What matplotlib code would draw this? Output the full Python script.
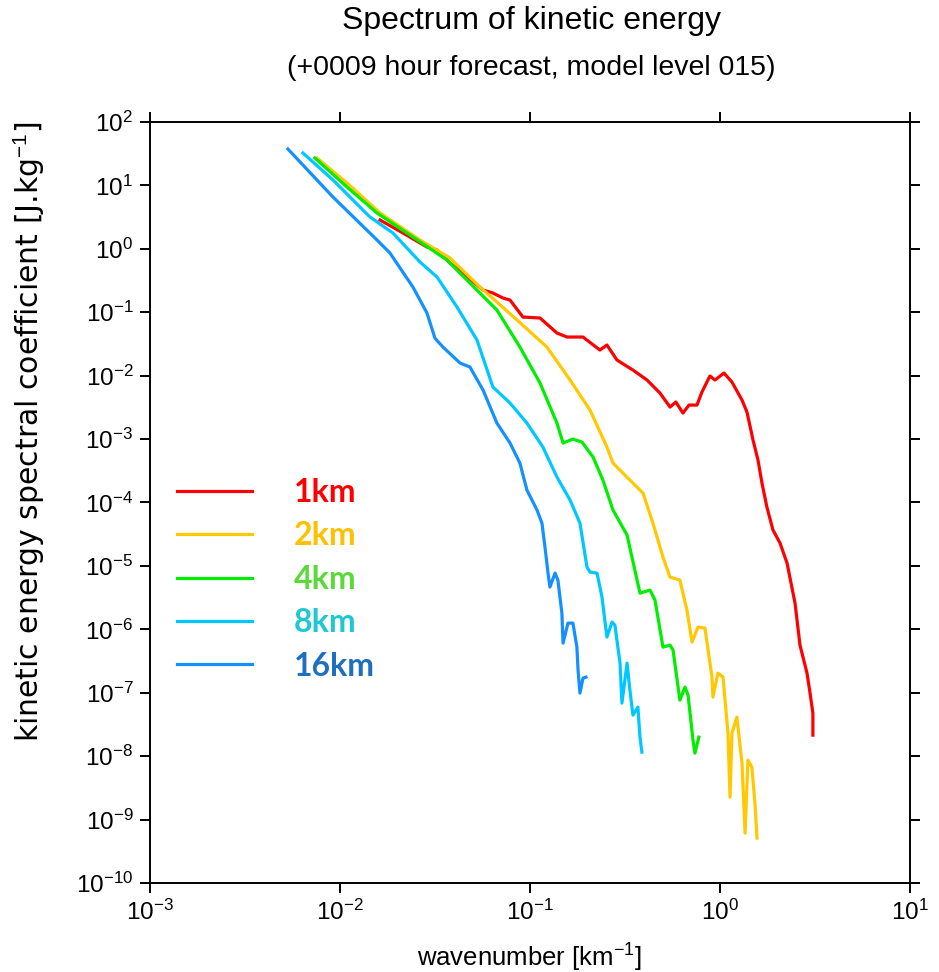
import numpy as np
import matplotlib.pyplot as plt
from matplotlib.lines import Line2D

plt.rcParams['font.family'] = ['Liberation Sans', 'DejaVu Sans']
plt.rcParams['mathtext.fontset'] = 'custom'
plt.rcParams['mathtext.rm'] = 'Liberation Sans'
plt.rcParams['mathtext.it'] = 'Liberation Sans:italic'
plt.rcParams['mathtext.bf'] = 'Liberation Sans:bold'

# log10(wavenumber [km-1]) and log10(spectral coefficient [J/kg])
lk_1km = [-1.789, -1.668, -1.542, -1.489, -1.421, -1.353, -1.247, -1.195, -1.142, -1.105,
          -1.037, -0.947, -0.858, -0.805, -0.721, -0.632, -0.595, -0.542, -0.458, -0.384,
          -0.316, -0.263, -0.232, -0.195, -0.163, -0.121, -0.095, -0.053, -0.026, 0.021,
          0.063, 0.116, 0.142, 0.174, 0.2, 0.221, 0.247, 0.279, 0.316, 0.353,
          0.395, 0.421, 0.458, 0.474, 0.489, 0.489]
le_1km = [0.454, 0.249, 0.028, -0.019, -0.224, -0.382, -0.650, -0.697, -0.776, -0.808,
          -1.076, -1.091, -1.328, -1.391, -1.391, -1.596, -1.517, -1.754, -1.912, -2.069,
          -2.274, -2.495, -2.416, -2.590, -2.464, -2.464, -2.259, -2.006, -2.069, -1.959,
          -2.101, -2.385, -2.574, -3.016, -3.331, -3.694, -4.073, -4.435, -4.640, -4.956,
          -5.587, -6.249, -6.691, -7.006, -7.322, -7.669]

lk_2km = [-2.121, -1.963, -1.789, -1.579, -1.421, -1.263, -1.068, -0.911, -0.789, -0.684,
          -0.595, -0.563, -0.511, -0.474, -0.405, -0.353, -0.3, -0.263, -0.211, -0.174,
          -0.147, -0.116, -0.079, -0.042, -0.037, -0.011, 0.016, 0.042, 0.053, 0.063,
          0.089, 0.116, 0.132, 0.147, 0.168, 0.184, 0.195]
le_2km = [1.432, 1.038, 0.565, 0.139, -0.145, -0.603, -1.123, -1.549, -2.069, -2.543,
          -3.126, -3.379, -3.536, -3.647, -3.852, -4.325, -4.861, -5.177, -5.224, -5.697,
          -6.202, -5.965, -5.981, -6.754, -7.069, -6.691, -6.754, -7.637, -8.647, -7.637,
          -7.385, -8.110, -9.215, -8.063, -8.174, -8.741, -9.293]

lk_4km = [-2.132, -1.963, -1.805, -1.616, -1.437, -1.316, -1.174, -1.053, -0.947, -0.858,
          -0.826, -0.774, -0.726, -0.668, -0.616, -0.563, -0.489, -0.421, -0.368, -0.342,
          -0.3, -0.263, -0.247, -0.211, -0.184, -0.168, -0.142, -0.132, -0.111]
le_4km = [1.432, 0.975, 0.565, 0.186, -0.177, -0.539, -0.965, -1.549, -2.117, -2.748,
          -3.063, -3.0, -3.048, -3.284, -3.647, -4.120, -4.514, -5.429, -5.382, -5.539,
          -6.281, -6.249, -6.328, -7.117, -6.912, -7.038, -7.748, -7.953, -7.700]

lk_8km = [-2.195, -2.037, -1.842, -1.721, -1.579, -1.489, -1.384, -1.279, -1.195, -1.105,
          -1.016, -0.932, -0.858, -0.789, -0.737, -0.7, -0.684, -0.647, -0.621, -0.595,
          -0.568, -0.553, -0.526, -0.516, -0.489, -0.474, -0.458, -0.432, -0.421, -0.411]
le_8km = [1.511, 1.085, 0.502, 0.249, -0.208, -0.445, -0.918, -1.438, -2.180, -2.432,
          -2.748, -3.126, -3.599, -3.962, -4.325, -5.019, -5.098, -5.114, -5.492, -6.123,
          -5.886, -5.934, -6.533, -7.164, -6.533, -6.959, -7.353, -7.227, -7.700, -7.937]

lk_16km = [-2.274, -2.037, -1.805, -1.737, -1.616, -1.542, -1.5, -1.458, -1.368, -1.316,
           -1.247, -1.174, -1.105, -1.053, -1.016, -0.963, -0.937, -0.921, -0.905, -0.895,
           -0.868, -0.853, -0.832, -0.826, -0.8, -0.774, -0.753, -0.747, -0.737, -0.721,
           -0.705]
le_16km = [1.574, 0.817, 0.139, -0.066, -0.603, -1.013, -1.41, -1.549, -1.801, -1.864,
           -2.227, -2.748, -3.063, -3.379, -3.804, -4.120, -4.325, -4.703, -5.114, -5.334,
           -5.114, -5.224, -5.744, -6.218, -5.902, -5.902, -6.281, -6.644, -7.006, -6.770,
           -6.754]

labels = ['1km', '2km', '4km', '8km', '16km']
line_colors = ['#ff0000', '#ffc800', '#00ee00', '#00c8ff', '#1490ff']
text_colors = ['#ff0000', '#ffc000', '#5cd93a', '#1ec8d2', '#1f6fbf']

series = [(lk_1km, le_1km), (lk_2km, le_2km), (lk_4km, le_4km),
          (lk_8km, le_8km), (lk_16km, le_16km)]

fig = plt.figure(figsize=(9.39, 9.72), dpi=100)
ax = fig.add_axes([0.1597, 0.0916, 0.8094, 0.7829])

for (lk, le), c in zip(series, line_colors):
    ax.plot(10**np.array(lk), 10**np.array(le), color=c, lw=2.3)

ax.set_xscale('log')
ax.set_yscale('log')
ax.set_xlim(1e-3, 1e1)
ax.set_ylim(1e-10, 1e2)
ax.set_xticks([1e-3, 1e-2, 1e-1, 1e0, 1e1])
ax.set_yticks([10.0**p for p in range(-10, 3)])
ax.minorticks_off()
ax.tick_params(which='major', direction='out', length=7, width=1.4,
               top=True, right=True, labelsize=17.5, pad=5)
for s in ax.spines.values():
    s.set_linewidth(1.4)

ax.set_xlabel('wavenumber [km$^{-1}$]', fontsize=18.5)
ax.set_ylabel('kinetic energy spectral coefficient [J.kg$^{-1}$]', fontsize=21.5,
              family=['DejaVu Sans'])
ax.xaxis.set_label_coords(0.5, -0.077)
ax.yaxis.set_label_coords(-0.136, 0.593)

fig.text(531/939, 1-21/972, 'Spectrum of kinetic energy', ha='center', va='center', fontsize=23)
fig.text(531/939, 1-68/972, '(+0009 hour forecast, model level 015)', ha='center', va='center', fontsize=20.5)

handles = [Line2D([], [], color=c, lw=2.3) for c in line_colors]
ax.legend(handles, labels, loc='upper left', bbox_to_anchor=(0.0355, 0.532),
          frameon=False, borderpad=0, borderaxespad=0, handlelength=2.35,
          handletextpad=1.3, labelspacing=0.45, labelcolor=text_colors,
          prop={'family': 'Lato', 'weight': 'bold', 'size': 23})

fig.savefig('out.png', dpi=100)
